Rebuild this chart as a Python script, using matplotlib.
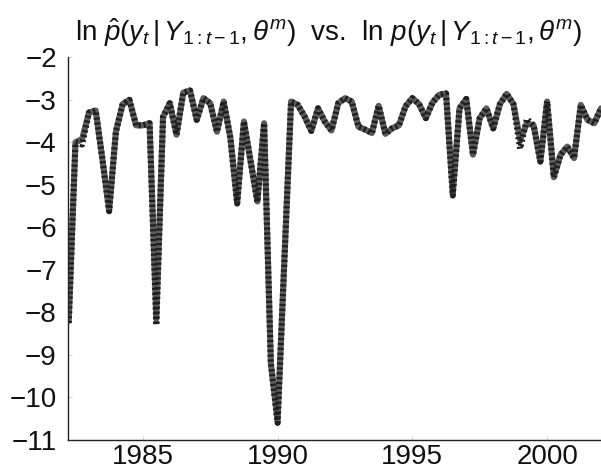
import numpy as np
import matplotlib
matplotlib.use("Agg")
import matplotlib.pyplot as plt

plt.rcParams['font.family'] = ['Liberation Sans', 'DejaVu Sans']
plt.rcParams['mathtext.fontset'] = 'custom'
plt.rcParams['mathtext.rm'] = 'Liberation Sans'
plt.rcParams['mathtext.it'] = 'Liberation Sans:italic'
plt.rcParams['mathtext.bf'] = 'Liberation Sans:bold'

#   quarterly observations starting 1982Q2
start_year = 1982.25
n_quarters = 80

#   ln p(y_t | Y_1:t-1, theta^m)  (exact, solid grey)
log_lik_exact = [
    -8.2, -4.0, -3.92, -3.3, -3.25, -4.4, -5.6, -3.75, -3.1, -3.0,
    -3.6, -3.6, -3.55, -8.15, -3.4, -3.08, -3.82, -2.83, -2.78, -3.47,
    -2.96, -3.08, -3.75, -3.04, -3.9, -5.42, -3.51, -4.45, -5.39, -3.55,
    -9.2, -10.55, -6.8, -3.04, -3.12, -3.39, -3.73, -3.2, -3.51, -3.72,
    -3.08, -2.96, -3.04, -3.63, -3.7, -3.78, -3.14, -3.8, -3.67, -3.6,
    -3.15, -2.96, -3.1, -3.43, -3.06, -2.88, -2.85, -5.2, -3.2, -2.98,
    -4.29, -3.43, -3.2, -3.67, -3.1, -2.86, -3.1, -3.94, -3.55, -3.6,
    -4.45, -3.04, -4.82, -4.29, -4.1, -4.37, -3.12, -3.47, -3.55, -3.2,
]

#   ln p-hat (particle filter estimate, dashed dark)
log_lik_pf = [
    -8.25, -4.0, -4.05, -3.3, -3.25, -4.4, -5.62, -3.75, -3.1, -3.0,
    -3.6, -3.6, -3.55, -8.3, -3.4, -3.08, -3.82, -2.83, -2.78, -3.47,
    -2.96, -3.08, -3.75, -3.04, -3.9, -5.44, -3.51, -4.45, -5.4, -3.55,
    -9.2, -10.6, -6.8, -3.04, -3.12, -3.39, -3.73, -3.2, -3.51, -3.72,
    -3.08, -2.96, -3.04, -3.63, -3.7, -3.78, -3.14, -3.8, -3.67, -3.6,
    -3.15, -2.96, -3.1, -3.43, -3.06, -2.88, -2.85, -5.25, -3.2, -2.98,
    -4.29, -3.43, -3.2, -3.67, -3.1, -2.86, -3.1, -4.15, -3.45, -3.6,
    -4.45, -3.04, -4.82, -4.29, -4.1, -4.37, -3.12, -3.47, -3.55, -3.2,
]

dates = start_year + np.arange(n_quarters) / 4.0

fig = plt.figure(figsize=(6.01, 4.70), dpi=100)
ax = fig.add_axes([0.113, 0.064, 0.887, 0.814])

ax.plot(dates, log_lik_exact, color="#5a5a5a", linewidth=4.4, solid_capstyle="round")
ax.plot(dates, log_lik_pf, color="#1e1e1e", linewidth=4.4,
        linestyle=(0, (0.35, 0.45)), dash_capstyle="butt")

ax.set_xlim(1982.22, 2002.0)
ax.set_ylim(-11, -2)
ax.set_xticks([1985, 1990, 1995, 2000])
ax.set_yticks(np.arange(-11, -1, 1))

for side in ["top", "right"]:
    ax.spines[side].set_visible(False)
for side in ["left", "bottom"]:
    ax.spines[side].set_linewidth(1.0)
    ax.spines[side].set_color("#222222")

ax.tick_params(direction="in", length=3, width=0.6, color="#cccccc",
               labelsize=20, labelcolor="#111111")
ax.tick_params(axis="x", pad=3)
ax.tick_params(axis="y", pad=8)

ax.set_title(r"$\ln\,\hat{p}(y_t\,|\,Y_{1:t-1},\theta^m)$  vs.  $\ln\,p(y_t\,|\,Y_{1:t-1},\theta^m)$",
             fontsize=20, pad=12, color="#111111", x=0.49)

fig.savefig("out.png", dpi=100)
